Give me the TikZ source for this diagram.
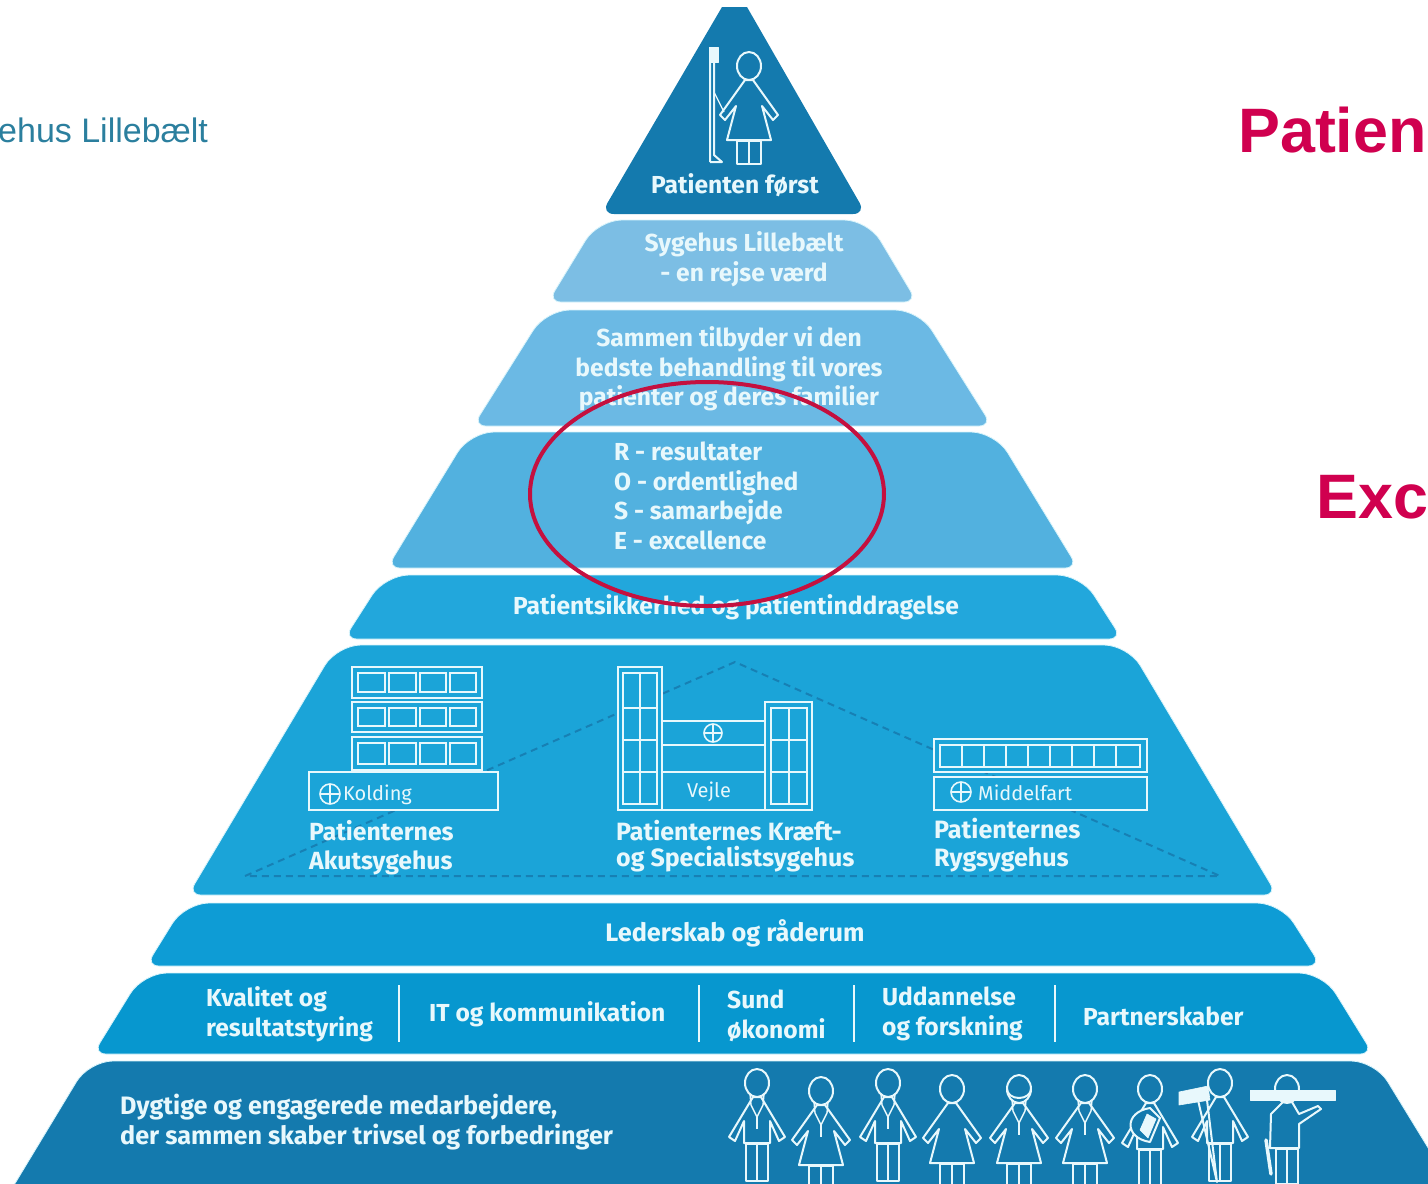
\documentclass[tikz,border=0pt]{standalone}
\usepackage{fontspec}
\setmainfont{Fira Sans}
\newfontfamily\arialfont{Liberation Sans}
\definecolor{tierA}{HTML}{147AAE}
\definecolor{tierB}{HTML}{7CBEE4}
\definecolor{tierC}{HTML}{6BB9E4}
\definecolor{tierD}{HTML}{52B1DF}
\definecolor{tierE}{HTML}{22A7DC}
\definecolor{tierF}{HTML}{1BA4D8}
\definecolor{tierG}{HTML}{0E9CD5}
\definecolor{tierH}{HTML}{0797CF}
\definecolor{edgepale}{HTML}{D8F4FB}
\definecolor{linepale}{HTML}{E8F8FC}
\definecolor{redmark}{HTML}{D0004F}
\definecolor{ringred}{HTML}{C4103F}
\definecolor{logoteal}{HTML}{2B7F9E}
\definecolor{dashblue}{HTML}{1780B4}
\newcommand{\tier}[7]{%
  \path[fill=#1,draw=edgepale,line width=0.8pt,rounded corners=13pt]
    (#4,#3) -- (#7,#3) [rounded corners=24pt] -- (#6,#2) -- (#5,#2)
    [rounded corners=13pt] -- cycle;}
\tikzset{
  lbl/.style={text=linepale,inner sep=0pt,font=\bfseries\fontsize{24.6}{29.6}\selectfont,align=left,anchor=west},
  lblc/.style={lbl,align=center,anchor=center},
  small/.style={text=linepale,inner sep=0pt,font=\fontsize{20}{24}\selectfont,anchor=west},
  bld/.style={draw=linepale,line width=2pt,fill=tierF},
  win/.style={draw=linepale,line width=1.8pt},
  fig/.style={draw=linepale,line width=2pt,line join=round},
  solidwhite/.style={fill=linepale,draw=linepale,line width=0.6pt,line join=round},
  dress/.pic={
    \draw[fig] (0,0) ellipse[x radius=12,y radius=14];
    \draw[fig] (-4,14) -- (-29,49) -- (-24,54) -- (-13,40) -- (-22,74) -- (22,74) -- (13,40) -- (24,54) -- (29,49) -- (4,14) -- cycle;
    \draw[fig] (-12,75) rectangle (12,98);
    \draw[fig] (0,75) -- (0,98);
  },
  tunic/.pic={
    \draw[fig] (0,0) ellipse[x radius=12,y radius=14];
    \draw[fig] (-4,14) -- (-28,54) -- (-22,58) -- (-13,38) -- (-13,60) -- (13,60) -- (13,38) -- (22,58) -- (28,54) -- (4,14) -- cycle;
    \draw[fig] (-11,61) rectangle (11,98);
    \draw[fig] (0,61) -- (0,98);
  },
  collar/.pic={
    \draw[fig,line width=1.4pt] (-7,11) -- (-6,22) -- (0,34) -- (6,22) -- (7,11);
    \draw[fig,line width=1.2pt] (0,34) -- (0,46);
  },
  crossmark/.pic={
    \draw[draw=linepale,line width=1.6pt] (0,0) circle[radius=10];
    \draw[draw=linepale,line width=1.6pt] (-10,0) -- (10,0) (0,-10) -- (0,10);
  }
}
\begin{document}
\begin{tikzpicture}[x=1pt,y=-1pt]
\useasboundingbox (0,0) rectangle (1428,1184);
\clip (0,0) rectangle (1428,1184);
\fill[white] (0,0) rectangle (1428,1184);
% pyramid tiers
\path[fill=tierA,rounded corners=13pt] (601,214) -- (866,214) [sharp corners] -- (747,7) -- (722,7) [rounded corners=13pt] -- cycle;
\tier{tierB}{220}{302}{548}{598}{868}{917}
\tier{tierC}{310}{426}{473}{546}{919}{992}
\tier{tierD}{432}{568}{387}{470}{995}{1078}
\tier{tierE}{575}{639}{344}{385}{1081}{1122}
\tier{tierF}{645}{895}{188}{337}{1128}{1277}
\tier{tierG}{903}{966}{146}{185}{1281}{1321}
\tier{tierH}{973}{1054}{93}{143}{1323}{1373}
\tier{tierA}{1061}{1200}{5}{89}{1375}{1460}
% dashed triangle behind hospitals
\draw[dashblue,line width=2pt,dash pattern=on 7pt off 5pt] (245,876) -- (735,662) -- (1220,876) -- cycle;
% Kolding
\foreach \yy/\hh in {667/31,702/30,737/33}{
  \draw[bld] (352,\yy) rectangle (482,\yy+\hh);
  \foreach \xa/\xb in {358/385,389/416,420/446,450/476}
    \draw[win] (\xa,\yy+6) rectangle (\xb,\yy+\hh-6);
}
\draw[bld] (309,772) rectangle (498,810);
\pic at (330,794) {crossmark};
\node[small] (kolding) at (343,795) {Kolding};
% Vejle
\draw[bld] (662,721) rectangle (765,810);
\draw[win] (662,745) -- (765,745) (662,772) -- (765,772);
\draw[bld] (618,667) rectangle (662,810);
\draw[win] (623,673) rectangle (657,804);
\draw[win] (640,673) -- (640,804) (623,708) -- (657,708) (623,740) -- (657,740) (623,772) -- (657,772);
\draw[bld] (765,702) rectangle (812,810);
\draw[win] (771,708) rectangle (807,804);
\draw[win] (789,708) -- (789,804) (771,740) -- (807,740) (771,772) -- (807,772);
\pic[scale=0.9] at (713,733) {crossmark};
\node[small,anchor=center] (vejle) at (709,792) {Vejle};
% Middelfart
\draw[bld] (934,739) rectangle (1147,772);
\draw[win] (940,745) rectangle (1140,767);
\foreach \xa in {962,984,1006,1028,1050,1072,1094,1116}
  \draw[win] (\xa,745) -- (\xa,767);
\draw[bld] (934,777) rectangle (1147,810);
\pic at (961,792) {crossmark};
\node[small] (middelfart) at (978,793) {Middelfart};
% tier 8 separators
\draw[linepale,line width=1.8pt] (399,985) -- (399,1042) (699,985) -- (699,1042) (854,985) -- (854,1042) (1055,985) -- (1055,1042);
% top patient with drip
\pic at (749,66) {dress};
\draw[solidwhite] (709,47) rectangle (718,62);
\draw[fig] (710,62) -- (710,162) (714,62) -- (714,155) -- (722,162) -- (710,162);
\draw[fig,line width=1.2pt] (714,62) -- (714,92) -- (724,112);
% staff
\pic at (757,1083) {tunic}; \pic at (757,1083) {collar};
\pic at (821,1091) {dress}; \pic at (821,1091) {collar};
\pic at (888,1083) {tunic}; \pic at (888,1083) {collar};
\pic at (952,1089) {dress};
\pic at (1019,1089) {dress}; \pic at (1019,1089) {collar};
\draw[fig] (1007,1089) arc[start angle=180,end angle=360,x radius=12,y radius=-9];
\pic at (1085,1089) {dress}; \pic at (1085,1089) {collar};
\pic at (1150,1089) {tunic};
\draw[fig,fill=tierA] (1150,1108) .. controls (1124,1112) and (1124,1138) .. (1150,1142) -- (1160,1118) -- cycle;
\draw[solidwhite] (1147,1114) -- (1156,1119) -- (1148,1138) -- (1140,1130) -- cycle;
\pic at (1220,1083) {tunic};
\draw[fig] (1198,1100) -- (1217,1182) -- (1207,1100);
\draw[solidwhite] (1179,1092) -- (1208,1086) -- (1210,1100) -- (1179,1105) -- cycle;
% man with plank
\draw[fig] (1287,1089) ellipse[x radius=12,y radius=14];
\draw[fig] (1283,1102) -- (1271,1114) -- (1270,1148) -- (1299,1148) -- (1299,1124) -- (1321,1109) -- (1318,1106) -- (1299,1114) -- (1292,1102) -- cycle;
\draw[fig] (1276,1149) rectangle (1298,1184);
\draw[fig] (1287,1149) -- (1287,1184);
\draw[solidwhite] (1250,1090) rectangle (1335,1100);
\draw[linepale,line width=3.5pt,line cap=round] (1266,1140) -- (1271,1174);
% texts
\node[lblc] (first) at (735,185.5) {Patienten først};
\node[lblc] (journey) at (744,259.5) {Sygehus Lillebælt\\- en rejse værd};
\node[lblc] (offer) at (729,369) {Sammen tilbyder vi den\\bedste behandling til vores\\patienter og deres familier};
\node[lbl] (rose) at (614,496) {R - resultater\\O - ordentlighed\\S - samarbejde\\E - excellence};
\node[lblc] (safety) at (736,607) {Patientsikkerhed og patientinddragelse};
\node[lbl,font=\bfseries\fontsize{24.8}{29}\selectfont] (acute) at (309,848) {Patienternes\\Akutsygehus};
\node[lbl,font=\bfseries\fontsize{25}{26.5}\selectfont] (cancer) at (616,846) {Patienternes Kræft-\\og Specialistsygehus};
\node[lbl,font=\bfseries\fontsize{25.1}{28}\selectfont] (spine) at (934,845) {Patienternes\\Rygsygehus};
\node[lblc,font=\bfseries\fontsize{25.3}{29.6}\selectfont] (lead) at (735,933) {Lederskab og råderum};
\node[lbl] (quality) at (206,1014) {Kvalitet og\\resultatstyring};
\node[lbl] (it) at (429,1014) {IT og kommunikation};
\node[lbl] (economy) at (727,1016) {Sund\\økonomi};
\node[lbl] (education) at (882,1014) {Uddannelse\\og forskning};
\node[lbl] (partners) at (1083,1016) {Partnerskaber};
\node[lbl,font=\bfseries\fontsize{25.2}{29.6}\selectfont] (staff) at (120,1122) {Dygtige og engagerede medarbejdere,\\der sammen skaber trivsel og forbedringer};
% outer page texts
\node[inner sep=0pt,anchor=base west,text=logoteal,font=\arialfont\fontsize{34}{40}\selectfont] (logo) at (-2,142) {ehus Lillebælt};
\node[inner sep=0pt,anchor=base west,text=redmark,font=\arialfont\bfseries\fontsize{62.8}{70}\selectfont] (patien) at (1238,152) {Patien};
\node[inner sep=0pt,anchor=base west,text=redmark,font=\arialfont\bfseries\fontsize{62.8}{70}\selectfont] (exc) at (1316,518) {Exc};
% highlight ring
\draw[ringred,line width=4pt] (707,494) ellipse[x radius=177,y radius=112];
\end{tikzpicture}
\end{document}
